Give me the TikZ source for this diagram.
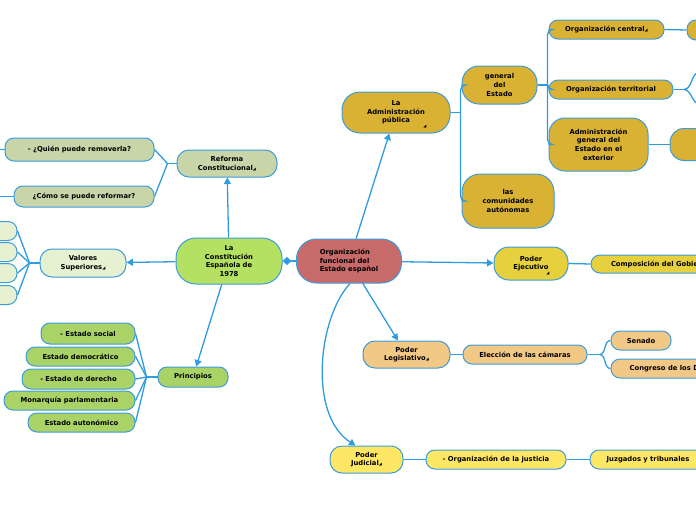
\documentclass[tikz,border=0pt]{standalone}
\usepackage{fontspec}
\setmainfont{DejaVu Sans}
\usetikzlibrary{arrows.meta}

\definecolor{borde}{HTML}{3D9BDB}
\definecolor{linea}{HTML}{2F9BE0}
\definecolor{rojo}{HTML}{C76A6A}
\definecolor{verdeC}{HTML}{B4E162}
\definecolor{salvia}{HTML}{C8D5A9}
\definecolor{crema}{HTML}{E6F1D2}
\definecolor{verdeP}{HTML}{A9D367}
\definecolor{oro}{HTML}{D9B234}
\definecolor{amarillo}{HTML}{E6D03E}
\definecolor{naranja}{HTML}{F2C887}
\definecolor{amarilloJ}{HTML}{FFE766}

\newcommand{\marquita}{{\fontsize{4}{4}\selectfont ◢}}

\begin{document}
\begin{tikzpicture}[x=1pt,y=-1pt,
	caja/.style={draw=borde, line width=1pt, rounded corners=9pt, align=center, inner sep=1pt,
		font=\bfseries\fontsize{6.8}{8.7}\selectfont, text=black},
	rama/.style={draw=linea, line width=1.3pt},
	flecha/.style={rama, -{Triangle[length=6.5pt,width=7pt]}},
	marca/.style={inner sep=0pt, font=\fontsize{4}{4}\selectfont}]

	\useasboundingbox (0,0) rectangle (696,520);
	\clip (0,0) rectangle (696,520);

	% centro
	\node[caja, fill=rojo, minimum width=105pt, minimum height=44pt, rounded corners=20pt, align=left] (centro) at (349,261) {Organización\\funcional del\\Estado español};

	% constitucion
	\node[caja, fill=verdeC, minimum width=106pt, minimum height=46pt, rounded corners=20pt] (const) at (229,261) {La\\Constitución\\Española de\\1978};
	\node[caja, fill=salvia, minimum width=100pt, minimum height=27pt, rounded corners=12pt] (reforma) at (227,163.5) {Reforma\\Constitucional\marquita};
	\node[caja, fill=salvia, minimum width=149pt, minimum height=23pt] (quien) at (79.5,149.5) {- ¿Quién puede removerla?};
	\node[caja, fill=salvia, minimum width=140pt, minimum height=21pt] (como) at (84,196.5) {¿Cómo se puede reformar?};
	\coordinate (quien0) at (-10,149.5);
	\coordinate (como0) at (-10,196.5);

	\node[caja, fill=crema, minimum width=86pt, minimum height=28pt, rounded corners=12pt] (valores) at (83,263) {Valores\\Superiores\marquita};
	\foreach \n/\y in {1/231,2/252,3/273,4/295}
		\node[caja, fill=crema, minimum width=74pt, minimum height=19pt] (val\n) at (-20,\y) {};

	\node[caja, fill=verdeP, minimum width=70pt, minimum height=20pt] (princ) at (193,377) {Principios};
	\node[caja, fill=verdeP, minimum width=94pt, minimum height=21pt] (social) at (88,333.5) {- Estado social};
	\node[caja, fill=verdeP, minimum width=109pt, minimum height=19pt] (democ) at (80.5,356.5) {Estado democrático};
	\node[caja, fill=verdeP, minimum width=113pt, minimum height=20pt] (derecho) at (78.5,379) {- Estado de derecho};
	\node[caja, fill=verdeP, minimum width=131pt, minimum height=19pt] (monarq) at (69.5,400.5) {Monarquía parlamentaria};
	\node[caja, fill=verdeP, minimum width=107pt, minimum height=19pt] (auton) at (81.5,422.5) {Estado autonómico};

	% administracion
	\node[caja, fill=oro, minimum width=108pt, minimum height=41pt, rounded corners=18pt] (admin) at (396,112.5) {La\\Administración\\pública};
	\node[marca] (adminm) at (425,126) {◢};
	\node[caja, fill=oro, minimum width=75pt, minimum height=38pt, rounded corners=17pt] (gen) at (499.5,85) {general\\del\\Estado};
	\node[caja, fill=oro, minimum width=92pt, minimum height=54pt, rounded corners=18pt] (comun) at (508,201) {las\\comunidades\\autónomas};
	\node[caja, fill=oro, minimum width=115pt, minimum height=19pt] (ocen) at (606.5,29.5) {Organización central\marquita};
	\node[caja, fill=oro, minimum width=124pt, minimum height=19pt] (oter) at (611,89.5) {Organización territorial};
	\node[caja, fill=oro, minimum width=99pt, minimum height=53pt, rounded corners=16pt] (oext) at (598.5,144.5) {Administración\\general del\\Estado en el\\exterior};
	\node[caja, fill=oro, minimum width=60pt, minimum height=20pt] (ocen2) at (717,30) {};
	\node[caja, fill=oro, minimum width=80pt, minimum height=32pt, rounded corners=14pt] (oext2) at (710,144.5) {};
	\coordinate (oter1) at (700,72);
	\coordinate (oter2) at (700,104);

	% poderes
	\node[caja, fill=amarillo, minimum width=74pt, minimum height=33pt, rounded corners=15pt] (ejec) at (531,263.5) {Poder\\Ejecutivo};
	\node[marca] (ejecm) at (548,273) {◢};
	\node[caja, fill=amarillo, minimum width=140pt, minimum height=18pt] (compo) at (661,264) {Composición del Gobierno};

	\node[caja, fill=naranja, minimum width=87pt, minimum height=27pt, rounded corners=12pt] (legis) at (406.5,354.5) {Poder\\Legislativo\marquita};
	\node[caja, fill=naranja, minimum width=124pt, minimum height=19pt] (elec) at (525,354.5) {Elección de las cámaras};
	\node[caja, fill=naranja, minimum width=60pt, minimum height=19pt] (senado) at (641,340.5) {Senado};
	\node[caja, fill=naranja, minimum width=140pt, minimum height=19pt] (congreso) at (681,368.5) {Congreso de los Diputados};

	\node[caja, fill=amarilloJ, minimum width=73pt, minimum height=27pt, rounded corners=12pt] (judic) at (366.5,459.5) {Poder\\Judicial\marquita};
	\node[caja, fill=amarilloJ, minimum width=140pt, minimum height=19pt] (ojus) at (496,459.5) {- Organización de la justicia};
	\node[caja, fill=amarilloJ, minimum width=116pt, minimum height=19pt] (juzg) at (648,459.5) {Juzgados y tribunales};

	% flechas principales
	\draw[rama, -{Diamond[length=9pt,width=8pt]}] (centro) -- (const);
	\draw[flecha] (centro) -- (admin);
	\draw[flecha] (centro) -- (ejec);
	\draw[flecha] (centro) -- (legis);
	\draw[flecha] ([xshift=1pt]centro.south) .. controls (318,318) and (308,415) .. ([xshift=-11pt]judic.north);
	\draw[flecha] (const) -- (reforma);
	\draw[flecha] (const) -- (valores);
	\draw[flecha] (const) -- (princ);

	% ramas izquierda
	\draw[rama] (reforma.west) -- ++(-9,0) coordinate (jr);
	\draw[rama] (jr) -- (quien.east) (jr) -- (como.east);
	\draw[rama] (quien.west) -- (quien0) (como.west) -- (como0);
	\draw[rama] (valores.west) -- ++(-10,0) coordinate (jv);
	\foreach \n in {1,...,4}
		\draw[rama] (jv) -- (val\n.east);
	\draw[rama] (princ.west) -- ++(-11,0) coordinate (jp);
	\foreach \n in {social,democ,derecho,monarq,auton}
		\draw[rama] (jp) -- (\n.east);

	% ramas derecha
	\draw[rama] (admin.east) -- ++(10,0) coordinate (ja);
	\draw[rama, rounded corners=5pt] (ja) |- (gen.west);
	\draw[rama, rounded corners=5pt] (ja) |- (comun.west);
	\draw[rama] (gen.east) -- ++(10,0) coordinate (jg);
	\draw[rama, rounded corners=5pt] (jg) |- (ocen.west);
	\draw[rama, rounded corners=5pt] (jg) |- (oter.west);
	\draw[rama, rounded corners=5pt] (jg) |- (oext.west);
	\draw[rama] (ocen.east) -- (ocen2.west);
	\draw[rama] (oext.east) -- (oext2.west);
	\draw[rama] (oter.east) -- ++(10,0) coordinate (jt);
	\draw[rama] (jt) to[out=0,in=180] (oter1) (jt) to[out=0,in=180] (oter2);
	\draw[rama] (ejec.east) -- (compo.west);
	\draw[rama] (legis.east) -- (elec.west);
	\draw[rama] (elec.east) -- ++(12,0) coordinate (je);
	\draw[rama] (je) to[out=0,in=180] (senado.west) (je) to[out=0,in=180] (congreso.west);
	\draw[rama] (judic.east) -- (ojus.west);
	\draw[rama] (ojus.east) -- (juzg.west);
\end{tikzpicture}
\end{document}
